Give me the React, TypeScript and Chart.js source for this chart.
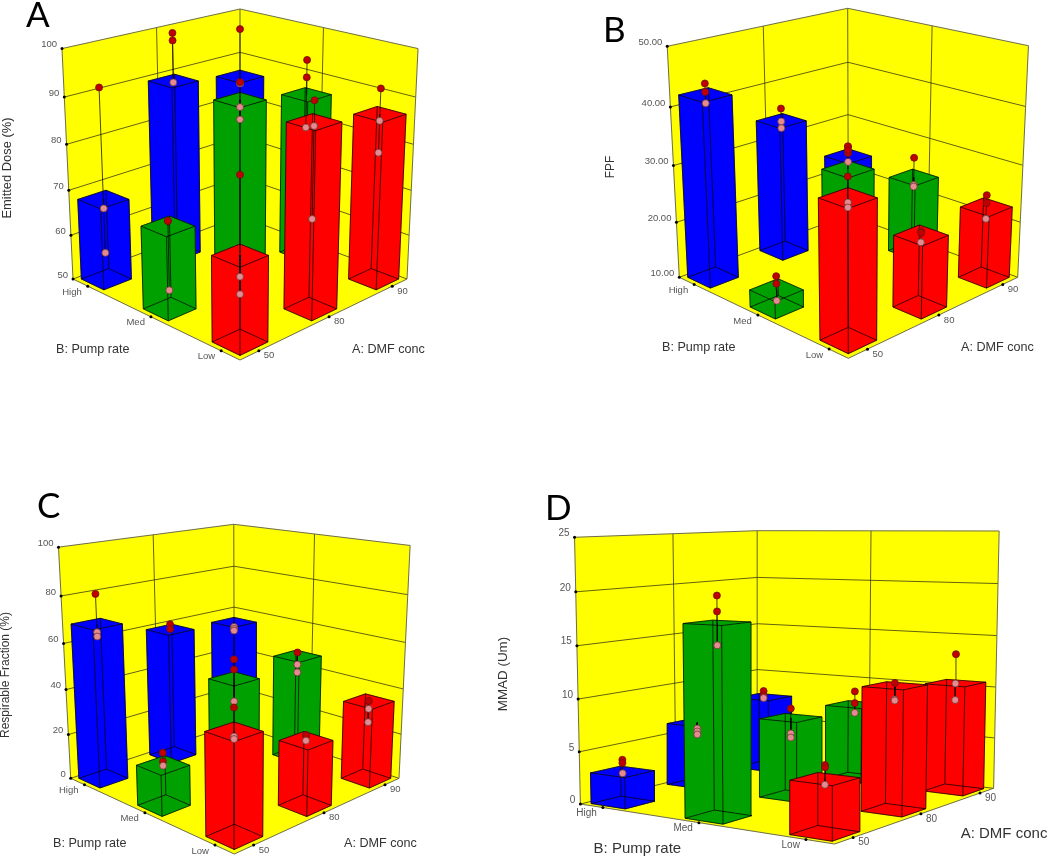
import React, { useEffect, useRef } from "react";
import { Chart, registerables } from "chart.js";

Chart.register(...registerables);

// ---------- categories and axis ticks ----------
const dmfLevels = ["50", "80", "90"];
const pumpLevels = ["High", "Med", "Low"];
const doseTicks = [50, 60, 70, 80, 90, 100];
const fpfTicks = [10, 20, 30, 40, 50];
const respTicks = [0, 20, 40, 60, 80, 100];
const mmadTicks = [0, 5, 10, 15, 20, 25];

// ---------- A: Emitted Dose ----------
const doseBarsHigh = [68, 89.3, 86.3];
const doseBarsMed = [67.9, 89.4, 86.3];
const doseBarsLow = [67.9, 89.3, 86.4];
const dosePointsHigh = [[92, 66, 56], [99.7, 98.1, 89], [97.1, 84.9, 84.7]];
const dosePointsMed = [[69, 69, 54.1], [93.1, 87.9, 85.3], [93.9, 90.1, 79]];
const dosePointsLow = [[83.8, 63.6, 60], [93.6, 88.5, 69.4], [91.8, 85, 78.2]];

// ---------- B: FPF ----------
const fpfBarsHigh = [42, 34.1, 23.8];
const fpfBarsMed = [13, 29.35, 23.8];
const fpfBarsLow = [33, 22.4, 22.7];
const fpfPointsHigh = [[43.9, 42.5, 40.6], [36.3, 34, 32.8], [25.6, 24.4, 22.7]];
const fpfPointsMed = [[15.4, 14.1, 11.1], [33.3, 32.6], [27.4, 22.4, 22.1]];
const fpfPointsLow = [[36.3, 32.3, 31.5], [23.1, 22.8, 21.2], [24.8, 23.4, 20.6]];

// ---------- C: Respirable Fraction ----------
const respBarsHigh = [68.2, 59, 55.7];
const respBarsMed = [17.2, 44.6, 46.7];
const respBarsLow = [41.4, 27.6, 34.6];
const respPointsHigh = [[80.8, 64.7, 62.9], [61.4, 59.3], [53.5, 52.5, 51.7]];
const respPointsMed = [[22.5, 18.8, 17], [53, 48.6, 34.7], [48.4, 42.8, 39.2]];
const respPointsLow = [[50.5, 39.5, 38.5], [29.9, 29.7, 27.5], [34.8, 31.3, 25.4]];

// ---------- D: MMAD ----------
const mmadBarsHigh = [2.95, 6.2, 7.5];
const mmadBarsMed = [17.5, 7.6, 7.55];
const mmadBarsLow = [4.7, 11.45, 10.5];
const mmadPointsHigh = [[4.1, 3.8, 2.8], [5.6, 5.3, 5], [8.15, 7.65, 7.4]];
const mmadPointsMed = [[19.9, 18.5, 15.5], [8.5, 6.1, 5.7], [8.9, 7.7, 6.7]];
const mmadPointsLow = [[5.9, 5.7, 4.2], [11.7, 10.2, 10.1], [13.3, 10.45, 8.85]];

// ---------- styling ----------
const YELLOW = "#ffff00";
const RED = "#ff0000";
const GREEN = "#00a000";
const BLUE = "#0000ff";
const DOT_ABOVE = "#c00000";
const DOT_BELOW = "#e48a90";
const LEVEL_POS = [0.1, 0.5, 0.9];
const HALF_BAR = 0.075;
const FONT = '"Liberation Sans", Arial, sans-serif';

type P = { x: number; y: number };
type Frame = { F: number[]; R: number[]; K: number[]; L: number[]; LT: number[]; RT: number[]; KT: number[] };

function makeProjector(fr: Frame) {
  const [x0, y0] = fr.F, [x1, y1] = fr.R, [x2, y2] = fr.K, [x3, y3] = fr.L;
  const dx1 = x1 - x2, dx2 = x3 - x2, dx3 = x0 - x1 + x2 - x3;
  const dy1 = y1 - y2, dy2 = y3 - y2, dy3 = y0 - y1 + y2 - y3;
  const den = dx1 * dy2 - dx2 * dy1;
  const g = (dx3 * dy2 - dx2 * dy3) / den;
  const h = (dx1 * dy3 - dx3 * dy1) / den;
  const a = x1 - x0 + g * x1, b = x3 - x0 + h * x3, c = x0;
  const d = y1 - y0 + g * y1, e = y3 - y0 + h * y3, f = y0;
  // vanishing point of the verticals
  const sL = (fr.LT[0] - fr.L[0]) / (fr.LT[1] - fr.L[1]);
  const sR = (fr.RT[0] - fr.R[0]) / (fr.RT[1] - fr.R[1]);
  const Vy = (fr.R[0] - fr.L[0] + sL * fr.L[1] - sR * fr.R[1]) / (sL - sR);
  const Vx = fr.L[0] + sL * (Vy - fr.L[1]);
  const wK = g + h + 1;
  const alpha = (wK * (fr.KT[1] - fr.K[1])) / (Vy - fr.KT[1]);
  return (u: number, v: number, z: number): P => {
    const w = g * u + h * v + 1 + alpha * z;
    return {
      x: (a * u + b * v + c + alpha * z * Vx) / w,
      y: (d * u + e * v + f + alpha * z * Vy) / w,
    };
  };
}

type PanelDef = {
  letter: string;
  letterPos: number[];
  rect: number[];
  frame: Frame;
  zTicks: number[];
  zFormat: (n: number) => string;
  bars: number[][]; // rows High, Med, Low
  points: number[][][];
  zTitle: string;
  zTitlePos: number[];
  zTitleSize: number;
  pumpPos: number[];
  dmfPos: number[];
  titleSize: number;
  tickSize: number;
};

const panels: PanelDef[] = [
  {
    letter: "A", letterPos: [26, 27], rect: [0, 0, 560, 428],
    frame: { F: [240, 360], R: [407, 279], K: [240, 216], L: [73, 279], LT: [62, 49], RT: [418, 49], KT: [240, 9] },
    zTicks: doseTicks, zFormat: String,
    bars: [doseBarsHigh, doseBarsMed, doseBarsLow],
    points: [dosePointsHigh, dosePointsMed, dosePointsLow],
    zTitle: "Emitted Dose (%)", zTitlePos: [7, 168], zTitleSize: 12.9,
    pumpPos: [56, 350], dmfPos: [352, 350], titleSize: 12.6, tickSize: 9.5,
  },
  {
    letter: "B", letterPos: [603, 42], rect: [560, 0, 490, 428],
    frame: { F: [848.3, 358.3], R: [1017.7, 277.3], K: [848.3, 215], L: [679.3, 277.3], LT: [667.3, 47.7], RT: [1028.3, 48.7], KT: [848.3, 8.3] },
    zTicks: fpfTicks, zFormat: (n) => n.toFixed(2),
    bars: [fpfBarsHigh, fpfBarsMed, fpfBarsLow],
    points: [fpfPointsHigh, fpfPointsMed, fpfPointsLow],
    zTitle: "FPF", zTitlePos: [611, 167], zTitleSize: 12,
    pumpPos: [662, 348], dmfPos: [961, 348], titleSize: 12.6, tickSize: 9.5,
  },
  {
    letter: "C", letterPos: [37, 518], rect: [0, 428, 490, 428],
    frame: { F: [234.3, 854], R: [399, 778.3], K: [234.3, 724.3], L: [70.7, 778.3], LT: [59.3, 562.3], RT: [409.3, 562.3], KT: [234.3, 524.3] },
    zTicks: respTicks, zFormat: String,
    bars: [respBarsHigh, respBarsMed, respBarsLow],
    points: [respPointsHigh, respPointsMed, respPointsLow],
    zTitle: "Respirable Fraction (%)", zTitlePos: [6, 675], zTitleSize: 12,
    pumpPos: [53, 844], dmfPos: [344, 844], titleSize: 12.6, tickSize: 9.5,
  },
  {
    letter: "D", letterPos: [545, 520], rect: [490, 428, 560, 428],
    frame: { F: [834.6, 844], R: [993.6, 788.3], K: [757.9, 760], L: [580.4, 804], LT: [574.6, 539.3], RT: [999, 537.3], KT: [757.9, 530.7] },
    zTicks: mmadTicks, zFormat: String,
    bars: [mmadBarsHigh, mmadBarsMed, mmadBarsLow],
    points: [mmadPointsHigh, mmadPointsMed, mmadPointsLow],
    zTitle: "MMAD (Um)", zTitlePos: [503, 674], zTitleSize: 13.4,
    pumpPos: [593.6, 849], dmfPos: [960.7, 834], titleSize: 15, tickSize: 10,
  },
];

function buildDatasets(p: PanelDef) {
  const proj = makeProjector(p.frame);
  const zMin = p.zTicks[0];
  const zMax = p.zTicks[p.zTicks.length - 1];
  const nz = (val: number) => (val - zMin) / (zMax - zMin);
  const out: any[] = [];
  const gap = { x: NaN, y: NaN };

  const poly = (pts: P[], color: string) =>
    out.push({ data: [...pts, pts[0]], showLine: true, fill: "shape", backgroundColor: color, borderColor: color, borderWidth: 0.5, pointRadius: 0, tension: 0, clip: false });
  const lines = (pts: P[], color: string, width: number) =>
    out.push({ data: pts, showLine: true, fill: false, borderColor: color, borderWidth: width, pointRadius: 0, tension: 0, clip: false });

  // walls and floor
  poly([proj(0, 1, 0), proj(1, 1, 0), proj(1, 1, 1), proj(0, 1, 1)], YELLOW);
  poly([proj(1, 1, 0), proj(1, 0, 0), proj(1, 0, 1), proj(1, 1, 1)], YELLOW);
  poly([proj(0, 0, 0), proj(1, 0, 0), proj(1, 1, 0), proj(0, 1, 0)], YELLOW);

  // grid
  const grid: P[] = [];
  p.zTicks.slice(0, -1).forEach((t) => {
    const z = nz(t);
    grid.push(proj(0, 1, z), proj(1, 1, z), proj(1, 0, z), gap);
  });
  [0.5, 1].forEach((u) => grid.push(proj(u, 1, 0), proj(u, 1, 1), gap));
  grid.push(proj(1, 0.5, 0), proj(1, 0.5, 1), gap);
  lines(grid, "rgba(50,50,20,0.85)", 0.9);
  const rim: P[] = [proj(0, 1, 0), proj(0, 1, 1), proj(1, 1, 1), proj(1, 0, 1), proj(1, 0, 0), gap,
    proj(0, 1, 0), proj(0, 0, 0), proj(1, 0, 0)];
  lines(rim, "rgba(100,100,90,0.95)", 1);

  // bars, far ones first
  const colors = [BLUE, GREEN, RED];
  const cells: { ia: number; ib: number; depth: number }[] = [];
  pumpLevels.forEach((_, ib) =>
    dmfLevels.forEach((__, ia) => cells.push({ ia, ib, depth: LEVEL_POS[ia] + LEVEL_POS[2 - ib] })));
  cells.sort((m, n) => n.depth - m.depth);
  cells.forEach(({ ia, ib }) => {
    const u = LEVEL_POS[ia], v = LEVEL_POS[2 - ib], z = nz(p.bars[ib][ia]), w = HALF_BAR;
    const b00 = proj(u - w, v - w, 0), b10 = proj(u + w, v - w, 0), b11 = proj(u + w, v + w, 0), b01 = proj(u - w, v + w, 0);
    const t00 = proj(u - w, v - w, z), t10 = proj(u + w, v - w, z), t11 = proj(u + w, v + w, z), t01 = proj(u - w, v + w, z);
    poly([b00, b10, t10, t00], colors[ib]);
    poly([b00, b01, t01, t00], colors[ib]);
    poly([t00, t10, t11, t01], colors[ib]);
    lines([b00, b10, b11, b01, b00, gap, t00, t10, t11, t01, t00, gap, b00, t00, gap, b10, t10, gap, b11, t11, gap, b01, t01],
      "rgba(0,0,0,0.8)", 0.9);
  });

  // stems, then dots, over every bar
  const stems: P[] = [];
  const dotData: P[] = [];
  const dotFill: string[] = [];
  const dotEdge: string[] = [];
  cells.forEach(({ ia, ib }) => {
    const u = LEVEL_POS[ia], v = LEVEL_POS[2 - ib], bar = p.bars[ib][ia];
    p.points[ib][ia].forEach((val) => {
      stems.push(proj(u, v, nz(bar)), proj(u, v, nz(val)), gap);
      dotData.push(proj(u, v, nz(val)));
      const above = val > bar;
      dotFill.push(above ? DOT_ABOVE : DOT_BELOW);
      dotEdge.push(above ? "#701010" : "#703838");
    });
  });
  lines(stems, "rgba(0,0,0,0.8)", 0.9);
  out.push({ data: dotData, showLine: false, pointRadius: 3.5, pointBorderWidth: 0.8, pointBackgroundColor: dotFill, pointBorderColor: dotEdge, clip: false });

  // axis tick marks
  const marks: P[] = [];
  p.zTicks.forEach((t) => marks.push(proj(0, 1, nz(t))));
  LEVEL_POS.forEach((q) => marks.push(proj(0, q, 0), proj(q, 0, 0)));
  out.push({ data: marks, showLine: false, pointRadius: 1.5, pointBorderWidth: 0, pointBackgroundColor: "#000", clip: false });

  out.forEach((ds, i) => (ds.order = -i));
  return out;
}

function labelsPlugin(p: PanelDef) {
  return {
    id: "panelText",
    afterDatasetsDraw(chart: any) {
      const { ctx } = chart;
      const px = (x: number) => chart.scales.x.getPixelForValue(x);
      const py = (y: number) => chart.scales.y.getPixelForValue(y);
      const proj = makeProjector(p.frame);
      const zMin = p.zTicks[0], zMax = p.zTicks[p.zTicks.length - 1];
      ctx.save();
      ctx.textBaseline = "middle";
      // tick labels
      ctx.fillStyle = "#555";
      ctx.font = `${p.tickSize}px ${FONT}`;
      ctx.textAlign = "right";
      p.zTicks.forEach((t) => {
        const q = proj(0, 1, (t - zMin) / (zMax - zMin));
        ctx.fillText(p.zFormat(t), px(q.x - 5), py(q.y - 4));
      });
      pumpLevels.forEach((lab, ib) => {
        const q = proj(0, LEVEL_POS[2 - ib], 0);
        ctx.fillText(lab, px(q.x - 6), py(q.y + 6));
      });
      ctx.textAlign = "left";
      dmfLevels.forEach((lab, ia) => {
        const q = proj(LEVEL_POS[ia], 0, 0);
        ctx.fillText(lab, px(q.x + 5), py(q.y + 5));
      });
      // axis titles
      ctx.fillStyle = "#333";
      ctx.font = `${p.titleSize}px ${FONT}`;
      ctx.fillText("B: Pump rate", px(p.pumpPos[0]), py(p.pumpPos[1]));
      ctx.fillText("A: DMF conc", px(p.dmfPos[0]), py(p.dmfPos[1]));
      ctx.save();
      ctx.translate(px(p.zTitlePos[0]), py(p.zTitlePos[1]));
      ctx.rotate(-Math.PI / 2);
      ctx.textAlign = "center";
      ctx.font = `${p.zTitleSize}px ${FONT}`;
      ctx.fillText(p.zTitle, 0, 0);
      ctx.restore();
      // panel letter
      ctx.fillStyle = "#000";
      ctx.textBaseline = "alphabetic";
      ctx.font = `35px Lato, "Open Sans", sans-serif`;
      ctx.fillText(p.letter, px(p.letterPos[0]), py(p.letterPos[1]));
      ctx.restore();
    },
  };
}

function Panel({ def }: { def: PanelDef }) {
  const ref = useRef<HTMLCanvasElement | null>(null);
  const [ox, oy, w, h] = def.rect;
  useEffect(() => {
    const chart = new Chart(ref.current as HTMLCanvasElement, {
      type: "scatter",
      data: { datasets: buildDatasets(def) },
      options: {
        animation: false,
        responsive: false,
        devicePixelRatio: 1,
        layout: { padding: 0, autoPadding: false },
        plugins: { legend: { display: false }, tooltip: { enabled: false } },
        scales: {
          x: { type: "linear", display: false, min: ox, max: ox + w },
          y: { type: "linear", display: false, min: oy, max: oy + h, reverse: true },
        },
      },
      plugins: [labelsPlugin(def)],
    } as any);
    return () => chart.destroy();
  }, []);
  return (
    <canvas
      ref={ref}
      width={w}
      height={h}
      style={{ position: "absolute", left: ox, top: oy, width: w, height: h, display: "block" }}
    />
  );
}

export default function App() {
  return (
    <div style={{ position: "absolute", left: 0, top: 0, width: 1050, height: 856, background: "#fff", overflow: "hidden" }}>
      {panels.map((d) => (
        <Panel key={d.letter} def={d} />
      ))}
    </div>
  );
}
